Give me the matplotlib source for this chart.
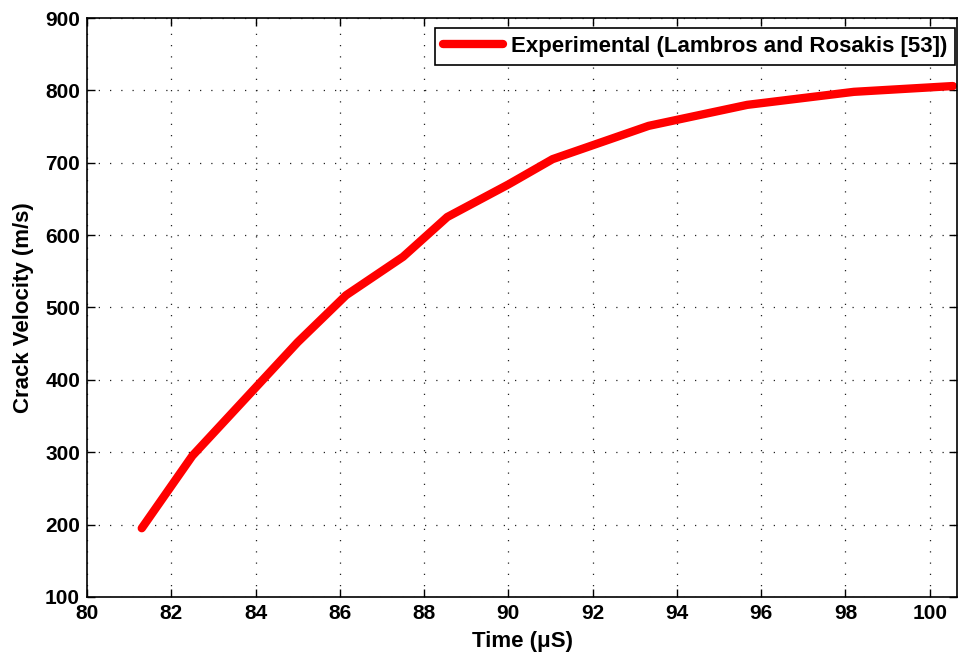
import matplotlib
matplotlib.use("Agg")
import matplotlib.pyplot as plt

plt.rcParams["font.family"] = ["Liberation Sans", "DejaVu Sans"]
plt.rcParams["font.weight"] = "bold"

# crack tip velocity history
time_us = [81.3, 82.5, 85.0, 86.15, 87.5, 88.55, 90.0, 91.05, 93.33, 95.67, 98.2, 100.55]
velocity = [195, 295, 452, 517, 570, 625, 670, 705, 751, 780, 798, 806]

x_ticks = [80, 82, 84, 86, 88, 90, 92, 94, 96, 98, 100]
y_ticks = [100, 200, 300, 400, 500, 600, 700, 800, 900]

fig = plt.figure(figsize=(9.6, 6.6), dpi=100)
ax = fig.add_axes([0.0906, 0.0955, 0.9064, 0.8772])

ax.plot(
    time_us,
    velocity,
    color="#ff0000",
    linewidth=6,
    solid_capstyle="round",
    solid_joinstyle="round",
    label="Experimental (Lambros and Rosakis [53])",
)

ax.set_xlim(80, 100.65)
ax.set_ylim(100, 900)
ax.set_xticks(x_ticks)
ax.set_yticks(y_ticks)

ax.grid(True, color="#222222", linestyle=(0, (1, 8)), linewidth=0.9)
ax.tick_params(
    direction="in",
    top=True,
    right=True,
    labelsize=15,
    length=6,
    width=1,
    pad=5,
)
for spine in ax.spines.values():
    spine.set_linewidth(1.2)

ax.set_xlabel("Time (\u03bcS)", fontsize=16, fontweight="bold", labelpad=6)
ax.set_ylabel("Crack Velocity (m/s)", fontsize=16, fontweight="bold", labelpad=8)

legend = ax.legend(
    loc="upper right",
    bbox_to_anchor=(0.9976, 0.9827),
    prop={"size": 16, "weight": "bold"},
    fancybox=False,
    framealpha=1,
    edgecolor="black",
    handlelength=2.7,
    handletextpad=0.35,
    borderpad=0.35,
    borderaxespad=0.0,
)
legend.get_frame().set_linewidth(1.2)

fig.savefig("out.png", dpi=100)
